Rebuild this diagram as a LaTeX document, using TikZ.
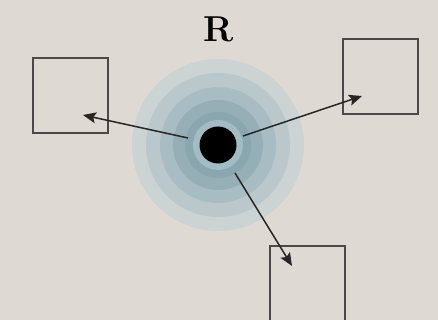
\documentclass[tikz,border=0pt]{standalone}
\usetikzlibrary{arrows.meta}
\definecolor{bg}{HTML}{DEDAD3}
\definecolor{ringa}{HTML}{CBD3D3}
\definecolor{ringb}{HTML}{BAC8CB}
\definecolor{ringc}{HTML}{A8BDC3}
\definecolor{ringd}{HTML}{96AFB7}
\definecolor{ringe}{HTML}{8AA6AF}
\definecolor{ringf}{HTML}{A2BCC4}
\definecolor{boxline}{HTML}{4A4848}
\tikzset{
  sqbox/.style={draw=boxline, line width=2.2pt, minimum width=75pt, minimum height=75pt, inner sep=0pt, fill=none},
  ring/.style={circle, inner sep=0pt, draw=none},
  ptr/.style={-{Stealth[length=13pt,width=11pt,inset=2.5pt]}, line width=1.5pt, draw=black!85}
}
\begin{document}
\begin{tikzpicture}[x=1pt,y=-1pt]
\fill[bg] (0,0) rectangle (438,320);
\useasboundingbox (0,0) rectangle (438,320);
\node[ring, fill=ringa, minimum size=172pt] (r1) at (218,145) {};
\node[ring, fill=ringb, minimum size=144pt] (r2) at (218,145) {};
\node[ring, fill=ringc, minimum size=116pt] (r3) at (218,145) {};
\node[ring, fill=ringd, minimum size=90pt] (r4) at (218,145) {};
\node[ring, fill=ringe, minimum size=66pt] (r5) at (218,145) {};
\node[ring, fill=ringf, minimum size=50pt] (r6) at (218,145) {};
\node[circle, fill=black, minimum size=37pt, inner sep=0pt] (dot) at (218,145) {};
\node[font=\fontsize{36}{36}\selectfont\bfseries] (R) at (219,29) {R};
\node[sqbox] (L) at (70.5,95.5) {};
\node[sqbox] (Rt) at (380.5,76.5) {};
\node[sqbox] (B) at (307.5,283.5) {};
\coordinate (sL) at (188,138);
\coordinate (sR) at (243,136);
\coordinate (sB) at (235,173);
\coordinate (tL) at (83,115);
\coordinate (tR) at (362,96);
\coordinate (tB) at (292,266);
\draw[ptr] (sL) -- (tL);
\draw[ptr] (sR) -- (tR);
\draw[ptr] (sB) -- (tB);
\end{tikzpicture}
\end{document}
